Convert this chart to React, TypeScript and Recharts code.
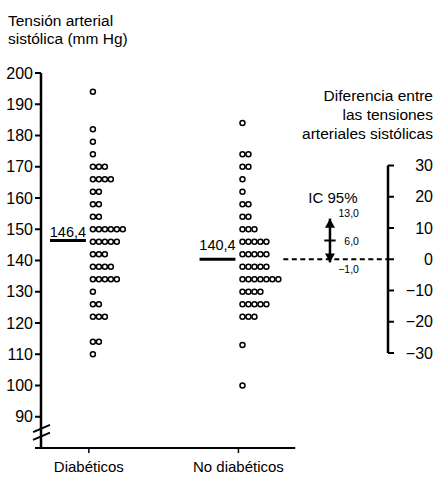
import React from 'react';
import {
  ScatterChart, Scatter, XAxis, YAxis, ReferenceLine, ReferenceDot,
} from 'recharts';

const categorias = ['Diabéticos', 'No diabéticos'];

// Tensión arterial sistólica (mm Hg), un valor por paciente
const diabeticos = [
  194,
  182,
  178,
  174,
  170, 170, 170,
  166, 166, 166, 166,
  162, 162,
  158, 158,
  154, 154,
  150, 150, 150, 150, 150, 150,
  146, 146, 146, 146, 146,
  142, 142, 142,
  138, 138, 138, 138,
  134, 134, 134, 134, 134,
  130,
  126, 126,
  122, 122, 122,
  114, 114,
  110,
];

const noDiabeticos = [
  184,
  174, 174,
  170, 170,
  166,
  162,
  158, 158,
  154, 154,
  150, 150, 150,
  146, 146, 146, 146, 146,
  142, 142, 142, 142, 142,
  138, 138, 138, 138, 138,
  134, 134, 134, 134, 134, 134, 134,
  130, 130, 130, 130,
  126, 126, 126, 126, 126,
  122, 122, 122,
  113,
  100,
];

const medias = [146.4, 140.4];
const ticksTension = [90, 100, 110, 120, 130, 140, 150, 160, 170, 180, 190, 200];
const ticksDiferencia = [-30, -20, -10, 0, 10, 20, 30];
// IC 95% de la diferencia: superior, diferencia, inferior
const icDiferencia = [13.0, 6.0, -1.0];

const W = 437;
const H = 477;
const FONT = '"Liberation Sans", Arial, Helvetica, sans-serif';

const X_MIN = 0.68;
const X_MAX = 3.0;
const Y_MIN = 80;
const Y_MAX = 200;
const INICIO = 0.027; // primer círculo respecto a la categoría
const PASO = 0.04; // separación entre círculos de una misma fila
const X_IC = 2.612;

const conComa = (v: number) => v.toFixed(1).replace('.', ',').replace('-', '−');
const conMenos = (v: number) => (v < 0 ? '−' + Math.abs(v) : String(v));

function apilar(valores: number[], pos: number) {
  const vistos: Record<number, number> = {};
  return valores.map((v) => {
    const k = vistos[v] ?? 0;
    vistos[v] = k + 1;
    return { x: pos + INICIO + k * PASO, y: v };
  });
}

const series = [apilar(diabeticos, 1), apilar(noDiabeticos, 2)];

const Circulo = (p: any) => (
  <circle cx={p.cx} cy={p.cy} r={2.5} fill="#fff" stroke="#000" strokeWidth={1.5} />
);

const flechaArriba = (p: any) => <path d={`M${p.cx},${p.cy} l-5,9 l10,0 z`} fill="#000" />;
const flechaAbajo = (p: any) => <path d={`M${p.cx},${p.cy} l-5,-9 l10,0 z`} fill="#000" />;

const dyIc = [-1.5, 4.5, 11];

const TickDif = (p: any) => (
  <text x={433} y={p.y} dy={5.7} textAnchor="end" fontSize={16} fontFamily={FONT} fill="#000">
    {conMenos(p.payload.value)}
  </text>
);

export default function App() {
  return (
    <div style={{ position: 'relative', width: W, height: H, background: '#fff' }}>
      <style>{'body{margin:0}'}</style>
      <ScatterChart width={W} height={H} margin={{ top: 73, right: 0, bottom: 0, left: 0 }}>
        <XAxis
          type="number"
          dataKey="x"
          domain={[X_MIN, X_MAX]}
          ticks={[1, 2]}
          interval={0}
          tickFormatter={(v) => categorias[v - 1]}
          axisLine={false}
          tickLine={{ stroke: '#000', strokeWidth: 1.5 }}
          tickSize={5}
          tickMargin={8}
          height={29}
          tick={{ fill: '#000', fontSize: 15, fontFamily: FONT }}
          allowDataOverflow
        />
        <YAxis
          yAxisId="ta"
          type="number"
          dataKey="y"
          domain={[Y_MIN, Y_MAX]}
          ticks={ticksTension}
          interval={0}
          width={41}
          axisLine={{ stroke: '#000', strokeWidth: 2.5 }}
          tickLine={{ stroke: '#000', strokeWidth: 2 }}
          tickSize={6}
          tickMargin={2}
          tick={{ fill: '#000', fontSize: 16, fontFamily: FONT }}
          allowDataOverflow
        />
        <YAxis
          yAxisId="dif"
          orientation="right"
          type="number"
          domain={[Y_MIN - medias[1], Y_MAX - medias[1]]}
          ticks={ticksDiferencia}
          interval={0}
          width={49}
          axisLine={false}
          tickLine={{ stroke: '#000', strokeWidth: 2 }}
          tickSize={6}
          tick={(p: any) => <TickDif {...p} />}
          allowDataOverflow
        />

        {/* eje X corto y corte del eje Y */}
        <ReferenceLine yAxisId="ta" segment={[{ x: 0.64, y: Y_MIN }, { x: 2.38, y: Y_MIN }]} stroke="#000" strokeWidth={2} ifOverflow="visible" />
        <ReferenceLine yAxisId="ta" segment={[{ x: 0.627, y: 85.1 }, { x: 0.74, y: 87.4 }]} stroke="#000" strokeWidth={2} ifOverflow="visible" />
        <ReferenceLine yAxisId="ta" segment={[{ x: 0.627, y: 82.6 }, { x: 0.74, y: 84.9 }]} stroke="#000" strokeWidth={2} ifOverflow="visible" />

        {/* medias */}
        {medias.map((m, i) => (
          <ReferenceLine
            key={'m' + i}
            yAxisId="ta"
            segment={[{ x: i + 1 - 0.26, y: m }, { x: i + 1 - 0.02, y: m }]}
            stroke="#000"
            strokeWidth={3}
            ifOverflow="visible"
            label={{ value: conComa(m), position: 'top', offset: i === 0 ? 4 : 9, fill: '#000', fontSize: 14.5, fontFamily: FONT }}
          />
        ))}

        {/* diferencia: línea discontinua, eje derecho e IC 95% */}
        <ReferenceLine yAxisId="dif" segment={[{ x: 2.3, y: 0 }, { x: X_MAX, y: 0 }]} stroke="#000" strokeWidth={2.2} strokeDasharray="5 3.5" />
        <ReferenceLine yAxisId="dif" segment={[{ x: X_MAX, y: -30 }, { x: X_MAX, y: 30 }]} stroke="#000" strokeWidth={2.5} ifOverflow="visible" />
        <ReferenceLine yAxisId="dif" segment={[{ x: X_IC, y: icDiferencia[2] }, { x: X_IC, y: icDiferencia[0] }]} stroke="#000" strokeWidth={2.5} />
        <ReferenceLine yAxisId="dif" segment={[{ x: X_IC - 0.038, y: icDiferencia[1] }, { x: X_IC + 0.038, y: icDiferencia[1] }]} stroke="#000" strokeWidth={2} />
        <ReferenceDot yAxisId="dif" x={X_IC} y={icDiferencia[0]} r={0} shape={flechaArriba} />
        <ReferenceDot yAxisId="dif" x={X_IC} y={icDiferencia[2]} r={0} shape={flechaAbajo} />
        <ReferenceDot
          yAxisId="dif"
          x={X_IC}
          y={icDiferencia[0]}
          r={0}
          shape={(p: any) => (
            <text x={p.cx + 3} y={p.cy - 15.5} textAnchor="middle" fontSize={15} fontFamily={FONT} fill="#000">IC 95%</text>
          )}
        />
        {icDiferencia.map((v, i) => (
          <ReferenceDot
            key={'ic' + i}
            yAxisId="dif"
            x={X_IC}
            y={v}
            r={0}
            shape={(p: any) => (
              <text x={p.cx + 29} y={p.cy + dyIc[i]} textAnchor="end" fontSize={10.5} fontFamily={FONT} fill="#000">
                {conComa(v)}
              </text>
            )}
          />
        ))}

        {series.map((s, i) => (
          <Scatter key={'s' + i} yAxisId="ta" data={s} shape={Circulo} isAnimationActive={false} />
        ))}
      </ScatterChart>

      <svg width={W} height={H} style={{ position: 'absolute', left: 0, top: 0, pointerEvents: 'none' }}>
        <g fontFamily={FONT} fontSize={15.5} fill="#000">
          <text x={8} y={26}>Tensión arterial</text>
          <text x={8} y={44}>sistólica (mm Hg)</text>
          <text x={433} y={101} textAnchor="end">Diferencia entre</text>
          <text x={433} y={120} textAnchor="end">las tensiones</text>
          <text x={433} y={139} textAnchor="end">arteriales sistólicas</text>
        </g>
      </svg>
    </div>
  );
}
